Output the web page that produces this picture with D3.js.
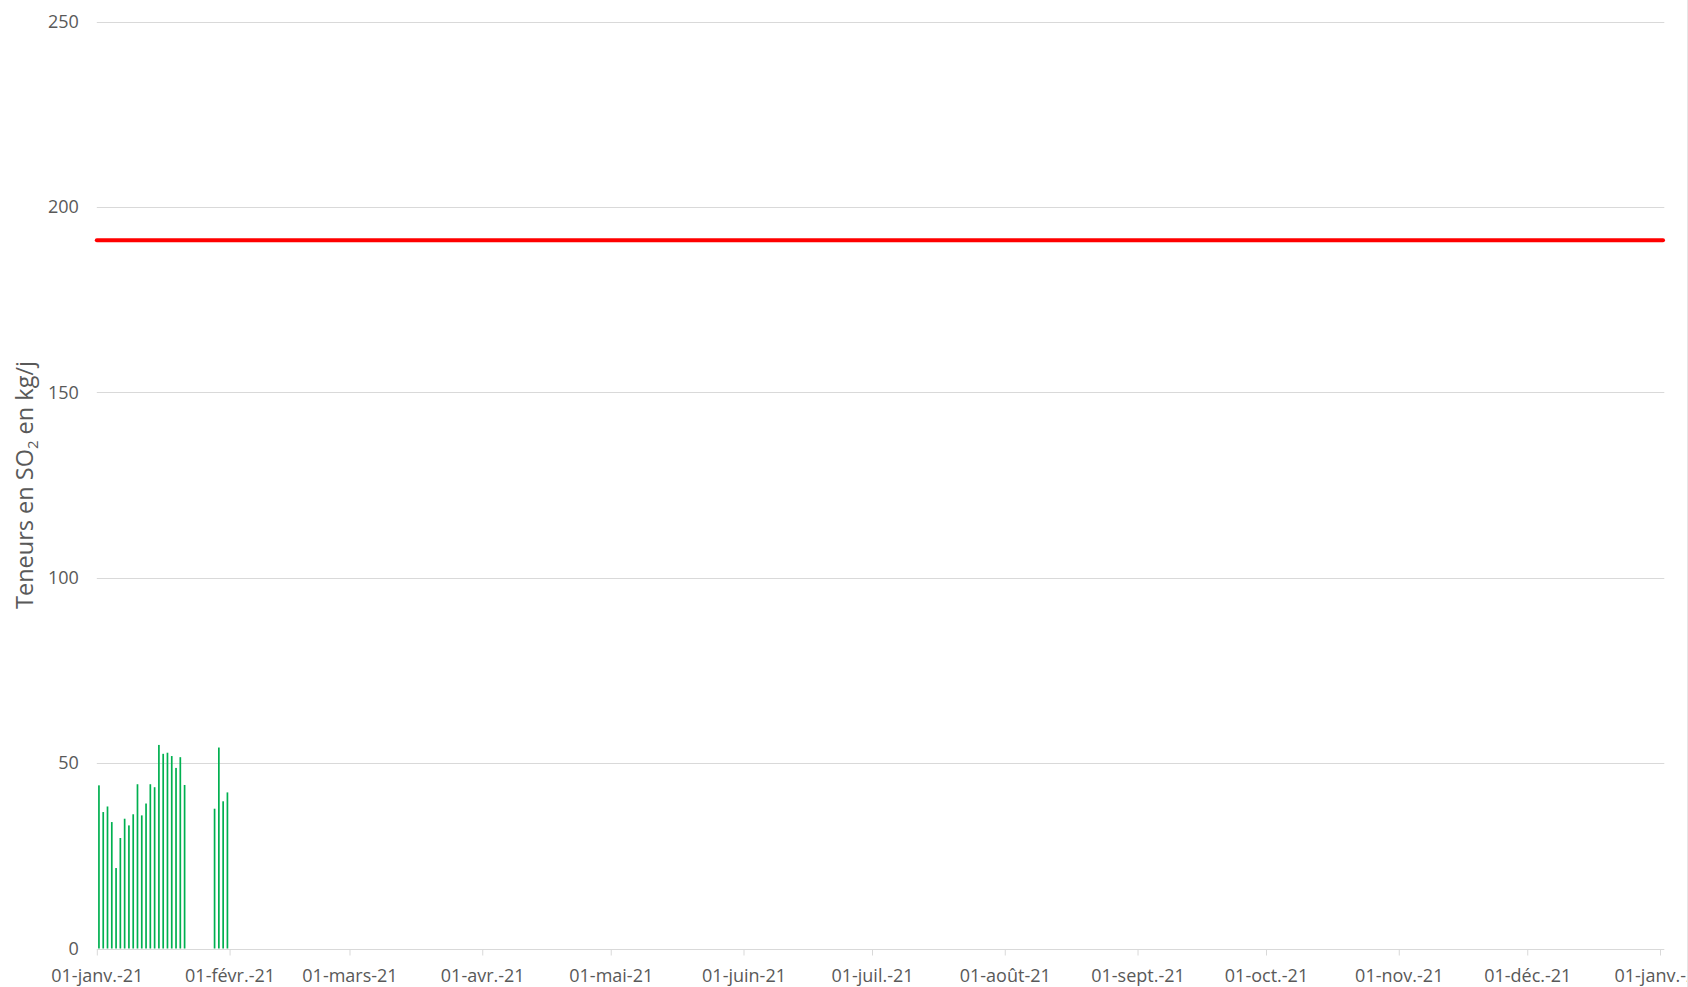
<!DOCTYPE html>
<html>
<head>
<meta charset="utf-8">
<script src="https://cdn.jsdelivr.net/npm/d3@7"></script>
<style>
  html, body { margin: 0; padding: 0; background: #fff; }
  svg { display: block; }
</style>
</head>
<body>
<svg id="chart" width="1688" height="987"></svg>
<script>
// ---- Data ----
const dates = [
  "2021-01-01","2021-01-02","2021-01-03","2021-01-04","2021-01-05","2021-01-06","2021-01-07",
  "2021-01-08","2021-01-09","2021-01-10","2021-01-11","2021-01-12","2021-01-13","2021-01-14",
  "2021-01-15","2021-01-16","2021-01-17","2021-01-18","2021-01-19","2021-01-20","2021-01-21",
  "2021-01-28","2021-01-29","2021-01-30","2021-01-31"
];
const so2Values = [
  44.0, 36.8, 38.3, 34.1, 21.7, 29.8, 35.0,
  33.2, 36.2, 44.3, 35.9, 39.1, 44.3, 43.5,
  54.9, 52.5, 52.8, 51.9, 48.7, 51.6, 44.1,
  37.7, 54.2, 39.7, 42.1
];
const limitValue = 191;
const yTicks = [0, 50, 100, 150, 200, 250];
const monthLabels = ["janv.","févr.","mars","avr.","mai","juin","juil.","août","sept.","oct.","nov.","déc."];
const axisTitle = ["Teneurs en SO", "2", " en kg/j"];

// ---- Layout ----
const svg = d3.select("#chart");
const W = 1688, H = 987;
const margin = { left: 96.8, right: 1664.3, top: 21.5, bottom: 948.5 };
const font = "'Open Sans', 'Liberation Sans', sans-serif";
const textColor = "#595959";
const gridColor = "#d9d9d9";

const parse = d3.utcParse("%Y-%m-%d");
const start = parse("2021-01-01");
const end = parse("2022-01-02");

const x = d3.scaleUtc().domain([start, end]).range([margin.left, margin.right]);
const y = d3.scaleLinear().domain([0, 250]).range([margin.bottom, margin.top]);

// gridlines
svg.append("g")
  .selectAll("line")
  .data(yTicks.filter(d => d > 0))
  .join("line")
  .attr("x1", margin.left).attr("x2", margin.right)
  .attr("y1", d => Math.round(y(d)) + 0.5).attr("y2", d => Math.round(y(d)) + 0.5)
  .attr("stroke", gridColor).attr("stroke-width", 1);

// y axis labels
const yAxis = d3.axisLeft(y).tickValues(yTicks).tickSize(0).tickPadding(18);
const gy = svg.append("g").attr("transform", `translate(${margin.left},0)`).call(yAxis);
gy.select(".domain").remove();
gy.selectAll("text")
  .attr("font-family", font).attr("font-size", 18).attr("fill", textColor);

// bars
const data = dates.map((d, i) => ({ date: parse(d), value: so2Values[i] }));
const barW = 1.7;
svg.append("g")
  .selectAll("rect")
  .data(data)
  .join("rect")
  .attr("x", d => (x(d.date) + x(d3.utcDay.offset(d.date, 1))) / 2 - barW / 2)
  .attr("width", barW)
  .attr("y", d => y(d.value))
  .attr("height", d => y(0) - y(d.value))
  .attr("fill", "#00B050");

// x axis
const monthTicks = d3.utcMonth.range(start, parse("2022-01-02"));
const fmt = d => {
  const dd = d3.utcFormat("%d")(d);
  const yy = d3.utcFormat("%y")(d);
  return `${dd}-${monthLabels[d.getUTCMonth()]}-${yy}`;
};
const xAxis = d3.axisBottom(x).tickValues(monthTicks).tickFormat(fmt).tickSize(6).tickSizeOuter(0).tickPadding(14);
const gx = svg.append("g").attr("transform", `translate(0,${Math.round(y(0)) + 0.5})`).call(xAxis);
gx.select(".domain").attr("stroke", gridColor).attr("d", `M${margin.left},0H${margin.right}`);
gx.selectAll(".tick line").attr("stroke", gridColor);
gx.selectAll("text")
  .attr("font-family", font).attr("font-size", 18).attr("fill", textColor);

// limit line
svg.append("line")
  .attr("x1", margin.left).attr("x2", x(parse("2022-01-01")) + 3)
  .attr("y1", y(limitValue)).attr("y2", y(limitValue))
  .attr("stroke", "#ff0000").attr("stroke-width", 4).attr("stroke-linecap", "round");

// y axis title
const title = svg.append("text")
  .attr("transform", `translate(32.5,485) rotate(-90)`)
  .attr("text-anchor", "middle")
  .attr("font-family", font).attr("font-size", 23.5).attr("fill", textColor);
title.append("tspan").text(axisTitle[0]);
title.append("tspan").attr("font-size", 15).attr("dy", 5).text(axisTitle[1]);
title.append("tspan").attr("dy", -5).text(axisTitle[2]);

// chart border (right edge)
svg.append("line")
  .attr("x1", W - 0.5).attr("x2", W - 0.5).attr("y1", 0).attr("y2", H)
  .attr("stroke", "#e6e6e6").attr("stroke-width", 1);
</script>
</body>
</html>
